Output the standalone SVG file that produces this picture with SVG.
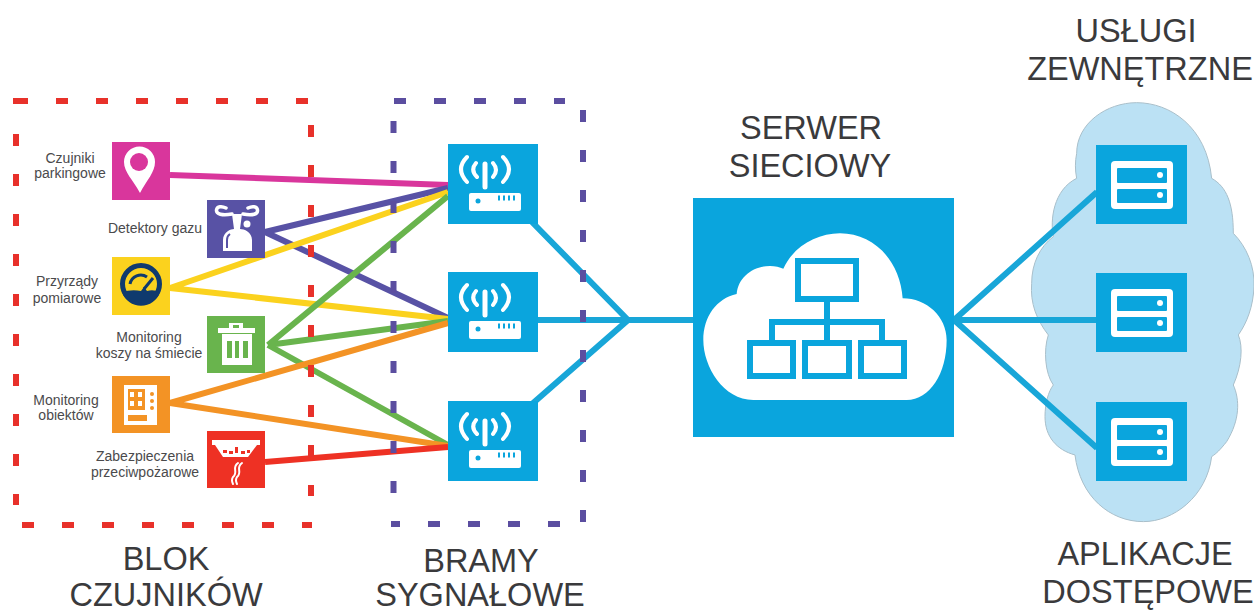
<svg xmlns="http://www.w3.org/2000/svg" width="1254" height="611" viewBox="0 0 1254 611">
<style>
text{font-family:"Liberation Sans",Arial,sans-serif;fill:#3a3a3c}
.s{font-size:14px;text-anchor:middle;fill:#4a4a4c}
.b{font-size:32.500px;text-anchor:middle}
.tile{fill:#0aa5dd}
.w{fill:#fff}
.wl{fill:none;stroke:#fff;stroke-width:4;stroke-linecap:round}
.c{fill:none;stroke-width:6;stroke-linecap:butt}
.red{fill:none;stroke:#e8312a;stroke-width:6;stroke-dasharray:12 28}
.pur{fill:none;stroke:#5b4ea0;stroke-width:6;stroke-dasharray:12 28}
.org{fill:none;stroke:#0aa5dd;stroke-width:6}
</style>
<defs>
<g id="gw">
<rect class="tile" width="90" height="80"/>
<rect class="w" x="21" y="49" width="52" height="18" rx="2"/>
<circle cx="30" cy="57" r="2.500" class="tile"/>
<path d="M50 51.500h2v5h-2zM55 51.500h2v5h-2zM60 51.500h2v5h-2zM65 51.500h2v5h-2z" class="tile"/>
<path d="M37 20V43" fill="none" stroke="#fff" stroke-width="5" stroke-linecap="round"/>
<path class="wl" d="M19 13Q7 25 19 38M55 13Q67 25 55 38M28 19Q22 26 29 33M45 19Q51 26 45 33"/>
</g>
<g id="srv">
<rect class="tile" width="91" height="79"/>
<rect class="w" x="15" y="16" width="62" height="48" rx="4"/>
<rect class="tile" x="21" y="23" width="50" height="15" rx="1"/>
<rect class="tile" x="21" y="44" width="50" height="14" rx="1"/>
<circle class="w" cx="64" cy="30" r="3"/>
<circle class="w" cx="64" cy="50" r="3"/>
</g>
</defs>
<rect width="1254" height="611" fill="#fff"/>

<path id="app-cloud" fill="#bbe1f4" stroke="#a9bfca" stroke-width="3" transform="translate(1010 90) scale(.3333)" d="M200 190C200 100 290 38 380 38C480 38 590 110 605 265C650 290 670 340 670 430C710 470 735 530 732 590C730 650 710 700 685 735C700 770 695 830 670 885C690 930 690 990 650 1055C630 1080 620 1090 605 1100C590 1220 490 1295 400 1295C300 1295 210 1220 195 1095C140 1080 105 1040 105 980C105 940 115 905 130 885C105 850 100 780 115 735C80 690 60 640 65 580C65 520 90 470 130 440C120 390 130 300 200 265C195 240 195 215 200 190Z"/>

<g id="connectors">
<path class="c" stroke="#d9369c" d="M170 175L448 185"/>
<path class="c" stroke="#5852a5" d="M265 232L448 188M265 232L448 318"/>
<path class="c" stroke="#fbd21e" d="M170 288L448 192M170 288L448 319"/>
<path class="c" stroke="#69b44d" d="M268 345L448 196M268 345L448 321M268 345L448 445"/>
<path class="c" stroke="#f39325" d="M170 403L448 323M170 403L448 446"/>
<path class="c" stroke="#ee3124" d="M265 462L448 447"/>
<path class="c" stroke="#18a6d8" d="M532 222L628 320L532 404M538 320H693M954 320L1097 192M954 320H1097M954 320L1097 448"/>
</g>

<g id="border-sensors">
<path class="red" d="M56 101H312"/>
<path fill="#e8312a" d="M13 98h15v6h-15z"/>
<path class="red" d="M22 525H312"/>
<path class="red" d="M16 134V505"/>
<path class="red" d="M311 125V496"/>
</g>
<g id="border-gateways">
<path class="pur" d="M394 101H565"/>
<path class="pur" d="M428 524H565"/>
<path fill="#5b4ea0" d="M391 521h9v6h-9z"/>
<path class="pur" d="M393.500 121V495"/>
<path class="pur" d="M583 110V522"/>
</g>

<g id="node-parking">
<rect x="112" y="142" width="58" height="58" fill="#d9369c"/>
<path class="w" d="M140 193C133 180 124 172 124 162A15.500 15.500 0 0 1 155 162C155 172 147 180 140 193Z"/>
<circle cx="139" cy="162" r="9" fill="#d9369c"/>
<text class="s" x="70" y="163">Czujniki</text>
<text class="s" x="70" y="178">parkingowe</text>
</g>
<g id="node-gas">
<rect x="207" y="200" width="58" height="58" fill="#5852a5"/>
<path class="w" d="M223 251V240C223 232 231 229 234 229L232 214H242L240 229C244 229 252 232 252 240V251Z"/>
<circle class="w" cx="247" cy="224" r="3.500"/>
<path d="M227 248V240Q227 236 230 234" fill="none" stroke="#5852a5" stroke-width="2"/>
<path class="wl" d="M232 214C222 216 216 214 216.500 210C217 206 222 206 226 208M243 214C253 216 258 214 257.500 210C257 206 252 206 248 208" style="stroke-width:3.500"/>
<text class="s" x="155" y="233">Detektory gazu</text>
</g>
<g id="node-meter">
<rect x="112" y="257" width="58" height="58" fill="#fbd21e"/>
<circle cx="141" cy="284" r="18.500" fill="#fbd21e" stroke="#0f3a6e" stroke-width="5"/>
<path d="M122 292Q132 289 141 291L144 287L147 291Q153 289 160 292A20 20 0 0 1 122 292Z" fill="#0f3a6e"/>
<path d="M130 284A11 11 0 0 1 147 277M153 278L144 289" fill="none" stroke="#0f3a6e" stroke-width="3"/>
<text class="s" x="67" y="286">Przyrządy</text>
<text class="s" x="67" y="303">pomiarowe</text>
</g>
<g id="node-bins">
<rect x="207" y="316" width="58" height="57" fill="#69b44d"/>
<path class="w" d="M218 328H229V323H243V328H255V333H218Z"/>
<path class="w" d="M222 334H252V365H222Z"/>
<path fill="#69b44d" d="M227 341h5v17h-5zM235 341h4v17h-4zM243 341h5v17h-5zM233 325h6v3h-6z"/>
<text class="s" x="149" y="342">Monitoring</text>
<text class="s" x="149" y="358">koszy na śmiecie</text>
</g>
<g id="node-objects">
<rect x="112" y="376" width="58" height="57" fill="#f39325"/>
<rect class="w" x="124" y="385" width="33" height="40"/>
<rect x="128" y="389" width="17" height="21" fill="#f39325"/>
<path class="w" d="M130 392h4v5h-4zM138 392h4v5h-4zM130 401h4v5h-4zM138 401h4v5h-4z"/>
<circle cx="152" cy="394" r="2" fill="#f39325"/>
<circle cx="152" cy="401" r="2" fill="#f39325"/>
<circle cx="152" cy="408" r="2" fill="#f39325"/>
<rect x="128" y="415" width="19" height="6" fill="#f39325"/>
<text class="s" x="66" y="405">Monitoring</text>
<text class="s" x="66" y="420">obiektów</text>
</g>
<g id="node-fire">
<rect x="207" y="431" width="58" height="57" fill="#ee3124"/>
<path class="w" d="M212 440H260V445H257L248 457H223L215 445H212Z"/>
<path d="M223 450h4v3h-4zM229 451h4v3h-4zM235 447h3v6h-3zM241 451h4v3h-4zM247 450h3v3h-3z" fill="#ee3124"/>
<path d="M241 463C234 468 242 472 236 477C234 480 235 482 236 484M237 463C230 468 238 472 232 477C230 480 231 482 232 484" fill="none" stroke="#fff" stroke-width="2" stroke-linecap="round" transform="translate(1 0)"/>
<text class="s" x="145" y="461">Zabezpieczenia</text>
<text class="s" x="145" y="477">przeciwpożarowe</text>
</g>

<g id="node-gateway-1"><use href="#gw" x="448" y="144"/></g>
<g id="node-gateway-2"><use href="#gw" x="448" y="272"/></g>
<g id="node-gateway-3"><use href="#gw" x="448" y="401"/></g>

<g id="node-server">
<rect class="tile" x="693" y="198" width="261" height="239"/>
<path class="w" transform="translate(680 190) scale(.3333)" d="M220 630C130 630 70 530 70 450C70 380 110 325 170 312C175 260 220 228 270 228C285 228 300 232 310 236C340 170 410 130 480 130C580 130 660 210 668 325C740 325 800 380 800 450C800 550 750 630 680 630Z"/>
<rect class="org" x="798" y="261" width="58" height="38"/>
<rect class="org" x="750" y="343" width="43" height="33"/>
<rect class="org" x="805" y="343" width="44" height="33"/>
<rect class="org" x="861" y="343" width="43" height="33"/>
<path class="org" d="M827 299V343M772 343V322H882V343"/>
<text class="b" x="811" y="139">SERWER</text>
<text class="b" x="810" y="177">SIECIOWY</text>
</g>

<g id="node-app-1"><use href="#srv" x="1096" y="145"/></g>
<g id="node-app-2"><use href="#srv" x="1096" y="273"/></g>
<g id="node-app-3"><use href="#srv" x="1096" y="402"/></g>

<g id="labels">
<text class="b" x="1136" y="42">USŁUGI</text>
<text class="b" x="1140" y="80">ZEWNĘTRZNE</text>
<text class="b" x="166" y="570">BLOK</text>
<text class="b" x="166" y="606">CZUJNIKÓW</text>
<text class="b" x="481" y="572">BRAMY</text>
<text class="b" x="480" y="606">SYGNAŁOWE</text>
<text class="b" x="1145" y="565">APLIKACJE</text>
<text class="b" x="1148" y="603">DOSTĘPOWE</text>
</g>
</svg>
